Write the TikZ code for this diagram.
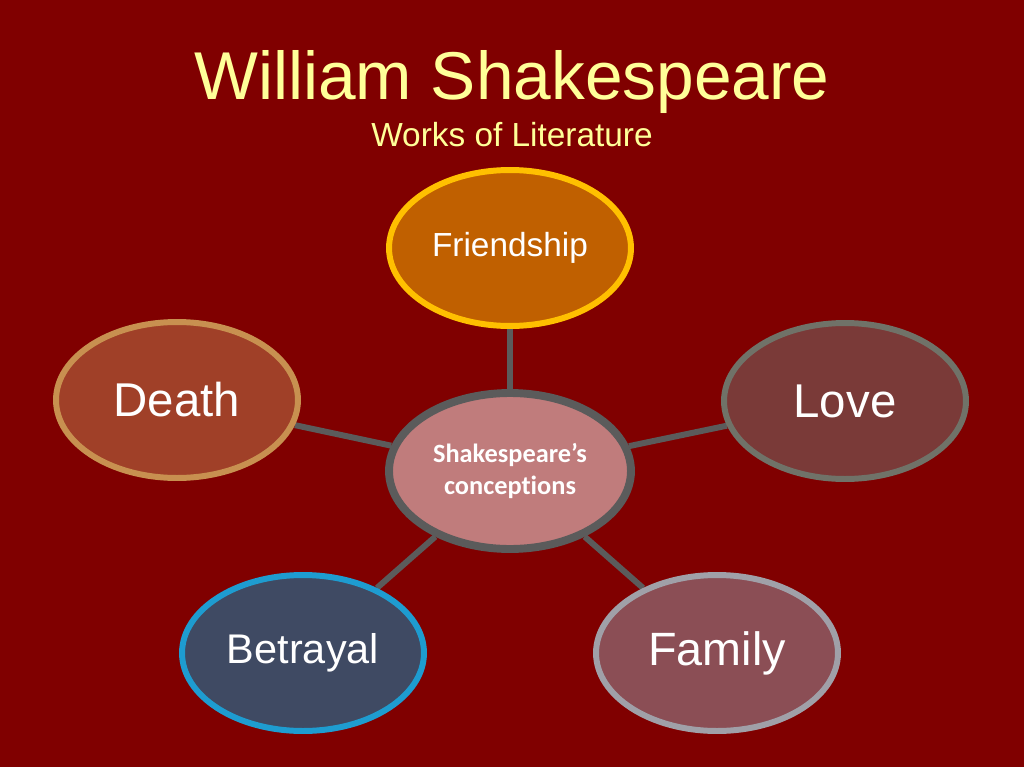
\documentclass[tikz,border=0pt]{standalone}
\usepackage{fontspec}
\setmainfont{Liberation Sans}
\newfontfamily\calib[Ligatures=NoCommon]{Carlito}
\usetikzlibrary{shapes.geometric,backgrounds}
\definecolor{slidered}{HTML}{800000}
\definecolor{titleyellow}{HTML}{FFFF99}
\definecolor{linkgray}{HTML}{5B5B5B}
\tikzset{
  topic/.style={ellipse, draw, line width=3.4pt, minimum width=4.84cm,
    minimum height=3.12cm, inner sep=0pt, text=white},
  link/.style={draw=linkgray, line width=3.4pt}
}
\begin{document}
\begin{tikzpicture}[x=0.02cm,y=-0.02cm]
        \node[anchor=base, text=titleyellow] (title) at (512,100)
          {\fontsize{38.5}{46}\selectfont William Shakespeare};
        \node[anchor=base, text=titleyellow] (subtitle) at (512,147)
          {\fontsize{19}{23}\selectfont Works of Literature};
        % centre and the five topics
        \node[topic, draw=linkgray, line width=4.5pt, fill={rgb,255:red,192;green,124;blue,124},
          align=center, font=\calib\bfseries\fontsize{15}{18}\selectfont] (centre) at (510,471)
          {Shakespeare’s\\conceptions};
        \node[topic, draw={rgb,255:red,255;green,192;blue,0}, fill={rgb,255:red,192;green,96;blue,0}]
          (friend) at (510,248) {\fontsize{19}{23}\selectfont Friendship};
        \node[topic, draw={rgb,255:red,200;green,144;blue,80}, fill={rgb,255:red,160;green,64;blue,40}]
          (death) at (177,400) {\fontsize{27}{32}\selectfont Death};
        \node[topic, draw={rgb,255:red,112;green,114;blue,104}, fill={rgb,255:red,122;green,58;blue,56}]
          (love) at (845,401) {\fontsize{27}{32}\selectfont Love};
        \node[topic, draw={rgb,255:red,30;green,156;blue,208}, fill={rgb,255:red,63;green,74;blue,99}]
          (betray) at (303,653) {\fontsize{23.6}{28}\selectfont Betrayal};
        \node[topic, draw={rgb,255:red,160;green,160;blue,168}, fill={rgb,255:red,139;green,78;blue,85}]
          (family) at (717,653) {\fontsize{26.6}{32}\selectfont Family};
        \begin{scope}[on background layer]
          \fill[slidered] (0,0) rectangle (1024,767);
          \draw[link] (centre) -- (friend);
          \draw[link] (centre) -- (death);
          \draw[link] (centre) -- (love);
          \draw[link] (centre) -- (betray);
          \draw[link] (centre) -- (family);
        \end{scope}
\end{tikzpicture}
\end{document}
